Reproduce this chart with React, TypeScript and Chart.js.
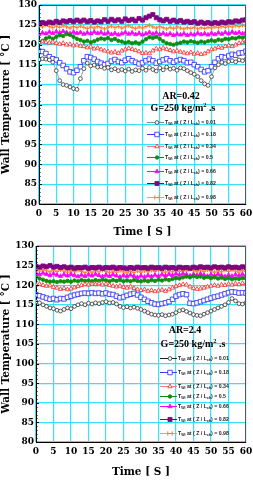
import React, { useEffect, useRef } from 'react';
import { Chart, registerables } from 'chart.js';

Chart.register(...registerables);

// ---------- data ----------
const TIME_S = [
  0, 1, 2, 3, 4, 5, 6, 7, 8, 9, 10, 11, 12, 13, 14, 15, 16, 17, 18, 19, 20,
  21, 22, 23, 24, 25, 26, 27, 28, 29, 30, 31, 32, 33, 34, 35, 36, 37, 38, 39, 40,
  41, 42, 43, 44, 45, 46, 47, 48, 49, 50, 51, 52, 53, 54, 55, 56, 57, 58, 59, 60,
];
const X_TICKS = [0, 5, 10, 15, 20, 25, 30, 35, 40, 45, 50, 55, 60];
const Y_TICKS = [80, 85, 90, 95, 100, 105, 110, 115, 120, 125, 130];
const Z_RATIOS = ['0.01', '0.18', '0.34', '0.5', '0.66', '0.82', '0.98'];

// AR = 0.42
const A042_Z001 = [
  116.3, 116.5, 116.4, 116.2, 115.6, 113.5, 111.0, 110.0, 109.8, 109.4,
  109.0, 108.8, 111.5, 114.0, 115.4, 114.7, 114.9, 114.4, 114.5, 114.1,
  114.3, 113.7, 114.0, 113.5, 113.8, 113.4, 113.9, 113.3, 113.7, 113.5,
  114.1, 113.6, 114.3, 113.8, 113.4, 114.2, 113.7, 114.4, 113.9, 114.1,
  113.6, 114.2, 114.0, 113.5, 113.0, 112.6, 112.0, 111.0, 110.2, 109.8,
  112.0, 114.2, 115.0, 115.6, 115.3, 115.8, 116.0, 115.7, 116.2, 116.0,
  116.4,
];
const A042_Z018 = [
  118.4, 118.3, 117.8, 117.0, 116.5, 116.2, 115.5, 114.8, 114.0, 113.2,
  113.0, 113.6, 114.5, 116.0, 117.0, 116.8, 116.4, 115.8, 115.4, 115.0,
  115.3, 115.9, 116.3, 115.8, 115.5, 116.1, 116.5, 116.0, 115.6, 115.2,
  115.5, 116.0, 116.4, 116.0, 115.4, 115.8, 116.2, 116.5, 116.0, 115.6,
  116.0, 116.3, 116.0, 115.5, 115.6, 115.0, 114.5, 113.8, 113.2, 113.5,
  114.5, 115.6, 116.5, 117.0, 116.8, 117.2, 117.6, 117.4, 117.9, 118.0,
  118.4,
];
const A042_Z034 = [
  120.6, 120.8, 120.6, 120.5, 120.7, 120.4, 120.2, 120.4, 120.0, 120.1,
  119.8, 120.0, 119.7, 119.6, 119.3, 119.5, 119.0, 119.2, 118.8, 118.5,
  118.3, 118.0, 118.2, 117.9, 118.5, 118.8, 119.1, 118.9, 118.6, 118.3,
  117.9, 118.0, 117.8, 118.5, 119.0, 118.8, 119.2, 118.9, 118.6, 118.3,
  118.5, 118.2, 118.0, 117.8, 118.1, 117.7, 117.9, 117.6, 117.8, 118.3,
  118.8, 119.0, 119.4, 119.2, 119.6, 119.8, 119.6, 120.0, 120.4, 120.6,
  120.9,
];
const A042_Z050 = [
  120.7, 121.0, 121.6, 121.9, 121.5, 122.0, 122.4, 122.2, 122.7, 122.5,
  122.0, 121.5, 121.2, 120.8, 121.0, 120.6, 120.9, 121.3, 121.6, 121.4,
  121.7, 121.2, 121.5, 121.0, 120.8, 120.5, 120.7, 120.4, 120.6, 120.3,
  120.8, 121.4, 121.9, 121.7, 122.0, 121.5, 120.9, 120.4, 120.2, 120.0,
  120.3, 120.5, 120.8, 120.6, 120.9, 120.7, 120.5, 120.8, 120.6, 120.9,
  121.1, 120.9, 121.3, 121.1, 121.5, 121.4, 121.7, 121.6, 121.9, 121.8,
  122.0,
];
const A042_Z066 = [
  122.6, 123.0, 122.8, 123.2, 122.9, 123.3, 123.0, 123.4, 123.1, 122.8,
  123.2, 122.9, 123.1, 122.7, 123.0, 122.8, 123.2, 122.9, 123.1, 122.7,
  123.0, 122.6, 122.9, 122.5, 122.8, 123.1, 122.7, 123.0, 122.6, 122.9,
  122.5, 122.8, 123.1, 122.7, 123.0, 122.6, 122.9, 122.5, 122.8, 122.4,
  122.7, 122.5, 122.8, 122.4, 122.7, 122.5, 122.9, 122.6, 122.8, 122.5,
  122.9, 122.6, 123.0, 122.7, 123.1, 122.8, 123.2, 122.9, 123.1, 122.8,
  123.2,
];
const A042_Z082 = [
  125.3, 125.6, 125.4, 125.7, 125.5, 125.9, 125.6, 126.0, 125.8, 126.1,
  125.8, 126.2, 125.9, 126.2, 125.8, 126.1, 125.7, 126.0, 125.8, 126.3,
  125.9, 126.4, 126.0, 126.3, 125.9, 126.5, 126.1, 126.4, 126.0, 126.6,
  126.2, 126.8, 127.2, 127.6, 126.8, 126.3, 126.0, 126.4, 125.9, 126.2,
  125.8, 126.1, 125.7, 125.9, 125.6, 125.8, 125.4, 125.7, 125.4, 125.6,
  125.3, 125.6, 125.4, 125.7, 125.5, 125.8, 125.7, 126.0, 125.9, 126.2,
  126.3,
];
const A042_Z098 = [
  124.8, 124.5, 124.9, 124.6, 124.3, 124.7, 124.4, 124.8, 124.5, 124.2,
  124.6, 124.3, 124.7, 124.4, 124.1, 124.5, 124.2, 124.6, 124.3, 124.0,
  124.4, 124.7, 124.3, 124.6, 124.2, 124.5, 124.8, 124.4, 124.1, 124.5,
  124.2, 124.6, 124.9, 124.5, 124.2, 124.6, 124.3, 124.0, 124.4, 124.1,
  124.5, 124.2, 124.0, 124.3, 124.1, 124.4, 124.0, 124.3, 124.1, 124.4,
  124.2, 124.5, 124.3, 124.6, 124.4, 124.7, 124.5, 124.8, 124.6, 124.9,
  124.7,
];

// AR = 2.4
const A24_Z001 = [
  115.8, 115.5, 115.0, 114.6, 114.2, 114.0, 113.6, 113.4, 113.8, 114.2,
  114.0, 114.6, 115.0, 115.3, 115.0, 115.4, 115.2, 115.5, 115.3, 115.6,
  115.8, 115.5, 115.6, 115.2, 114.6, 114.3, 114.5, 114.2, 114.4, 114.1,
  113.8, 113.4, 113.0, 112.6, 112.4, 112.3, 112.5, 112.2, 112.4, 112.6,
  113.0, 113.5, 113.7, 113.3, 112.9, 112.5, 112.3, 112.2, 112.6, 113.0,
  113.4, 113.8, 114.2, 114.6, 115.0, 115.6, 116.6, 116.0, 115.3, 115.2,
  115.5,
];
const A24_Z018 = [
  117.6, 117.3, 117.0, 116.7, 116.4, 116.6, 116.3, 116.6, 116.5, 116.9,
  117.2, 117.5, 117.7, 117.9, 118.0, 117.9, 118.1, 117.9, 118.0, 117.8,
  118.0, 117.7, 117.6, 117.2, 116.8, 117.0, 117.4, 117.7, 117.9, 117.5,
  116.9, 116.4, 115.9, 115.5, 115.2, 115.1, 115.3, 115.5, 115.8, 116.4,
  117.2, 117.6, 117.8, 117.6, 115.4, 115.3, 115.5, 115.8, 116.1, 116.4,
  116.7, 117.0, 117.2, 117.5, 117.8, 118.1, 118.3, 118.2, 118.0, 118.1,
  118.0,
];
const A24_Z034 = [
  120.1, 120.3, 120.0, 119.8, 119.9, 119.5, 119.3, 119.0, 119.2, 118.9,
  119.1, 119.4, 119.7, 120.0, 120.2, 120.1, 120.3, 120.2, 120.4, 120.1,
  120.3, 120.0, 119.8, 119.6, 119.8, 119.5, 119.3, 119.6, 119.2, 118.9,
  118.7, 118.9, 118.5, 118.7, 118.4, 118.6, 118.8, 118.5, 118.9, 119.3,
  119.7, 120.0, 120.2, 120.1, 119.6, 119.2, 119.0, 119.1, 119.3, 119.6,
  119.8, 120.0, 119.8, 120.1, 120.0, 120.3, 120.1, 120.4, 120.2, 120.5,
  120.4,
];
const A24_Z050 = [
  122.1, 121.7, 121.4, 121.1, 120.9, 121.0, 120.8, 121.0, 120.9, 121.1,
  120.9, 121.2, 121.0, 121.3, 121.1, 121.2, 121.0, 121.3, 121.1, 121.4,
  121.2, 121.0, 121.3, 121.1, 121.3, 121.0, 121.2, 121.0, 121.3, 121.1,
  121.0, 121.2, 121.0, 121.3, 121.1, 121.4, 121.2, 121.5, 121.3, 121.6,
  121.8, 121.7, 122.0, 122.2, 122.0, 122.3, 122.1, 122.2, 121.9, 122.1,
  121.8, 122.0, 121.7, 121.9, 121.6, 121.8, 121.5, 121.7, 121.6, 121.8,
  121.7,
];
const A24_Z066 = [
  123.0, 122.7, 123.1, 122.8, 122.5, 122.9, 122.6, 122.3, 122.7, 122.4,
  122.8, 122.5, 122.2, 122.6, 122.3, 122.7, 122.4, 122.8, 122.5, 122.2,
  122.6, 122.3, 122.7, 122.4, 122.1, 122.5, 122.2, 122.6, 122.3, 122.0,
  122.4, 122.1, 122.5, 122.2, 122.6, 122.3, 122.7, 122.4, 122.8, 122.5,
  122.9, 122.6, 123.0, 122.7, 122.4, 122.8, 122.5, 122.9, 122.6, 122.3,
  122.7, 122.4, 122.8, 122.5, 122.2, 122.6, 122.3, 122.7, 122.4, 122.8,
  122.5,
];
const A24_Z082 = [
  124.8, 124.6, 124.9, 124.7, 125.0, 124.6, 124.8, 124.5, 124.7, 124.4,
  124.6, 124.3, 124.5, 124.4, 124.6, 124.3, 124.5, 124.4, 124.6, 124.3,
  124.5, 124.4, 124.6, 124.3, 124.5, 124.4, 124.2, 124.5, 124.3, 124.6,
  124.4, 124.5, 124.3, 124.6, 124.4, 124.5, 124.3, 124.6, 124.4, 124.5,
  124.3, 124.6, 124.4, 124.5, 124.3, 124.6, 124.4, 124.7, 124.5, 124.6,
  124.4, 124.7, 124.5, 124.6, 124.4, 124.7, 124.5, 124.6, 124.4, 124.7,
  124.5,
];
const A24_Z098 = [
  123.9, 123.6, 124.0, 123.7, 123.4, 123.8, 123.5, 123.9, 123.6, 123.3,
  123.7, 123.4, 123.8, 123.5, 123.2, 123.6, 123.3, 123.7, 123.4, 123.8,
  123.5, 123.2, 123.6, 123.3, 123.7, 123.4, 123.1, 123.5, 123.2, 123.6,
  123.3, 123.7, 123.4, 123.8, 123.5, 123.9, 123.6, 123.3, 123.7, 123.4,
  123.8, 123.5, 123.9, 123.6, 124.0, 123.7, 123.4, 123.8, 123.5, 123.9,
  123.6, 123.3, 123.7, 123.4, 123.8, 123.5, 123.9, 123.6, 123.3, 123.7,
  123.5,
];

// ---------- styles ----------
const SERIF = '"DejaVu Serif", "Liberation Serif", serif';
const SANS = '"Liberation Sans", Arial, sans-serif';
const GRID = '#36e2f7';

type Marker = 'circle' | 'rect' | 'triangle' | 'cross';
const SERIES_STYLE: { marker: Marker; stroke: string; fill: string; line: string; r: number }[] = [
  { marker: 'circle', stroke: '#333333', fill: '#ffffff', line: '#8a8a8a', r: 1.9 },
  { marker: 'rect', stroke: '#2323ff', fill: '#ffffff', line: '#3b3bff', r: 3.2 },
  { marker: 'triangle', stroke: '#ff2424', fill: '#ffffff', line: '#ff7b7b', r: 2.5 },
  { marker: 'circle', stroke: '#118a11', fill: '#118a11', line: '#118a11', r: 1.8 },
  { marker: 'triangle', stroke: '#ff00ff', fill: '#ff00ff', line: '#ff00ff', r: 2.5 },
  { marker: 'rect', stroke: '#800080', fill: '#800080', line: '#800080', r: 2.9 },
  { marker: 'cross', stroke: '#ff7f2a', fill: '#ff7f2a', line: '#ff9c5c', r: 2.2 },
];

interface Panel {
  series: number[][];
  ar: string;
  firstLine: string;
  yWidth: number;
  xHeight: number;
  padTop: number;
  arPos: [number, number];
  gPos: [number, number];
  legendRows: number[];
  legendLine: [number, number];
  legendMarkerX: number;
  legendTextX: number;
}

const PANELS: Panel[] = [
  {
    series: [A042_Z001, A042_Z018, A042_Z034, A042_Z050, A042_Z066, A042_Z082, A042_Z098],
    ar: 'AR=0.42',
    firstLine: '#8a8a8a',
    yWidth: 39,
    xHeight: 36,
    padTop: 5,
    arPos: [181, 96],
    gPos: [183, 108],
    legendRows: [122, 134, 146, 157, 171, 183, 197],
    legendLine: [147, 164],
    legendMarkerX: 157,
    legendTextX: 165,
  },
  {
    series: [A24_Z001, A24_Z018, A24_Z034, A24_Z050, A24_Z066, A24_Z082, A24_Z098],
    ar: 'AR=2.4',
    firstLine: '#222222',
    yWidth: 36,
    xHeight: 38,
    padTop: 6,
    arPos: [185, 90],
    gPos: [193, 104],
    legendRows: [118, 132, 146, 156, 166, 179, 193],
    legendLine: [160, 177],
    legendMarkerX: 170,
    legendTextX: 178,
  },
];

function drawMarker(ctx: CanvasRenderingContext2D, kind: Marker, x: number, y: number, r: number, stroke: string, fill: string) {
  ctx.save();
  ctx.lineWidth = kind === 'cross' ? 1 : 0.8;
  ctx.strokeStyle = stroke;
  ctx.fillStyle = fill;
  ctx.beginPath();
  if (kind === 'circle') {
    ctx.arc(x, y, r, 0, Math.PI * 2);
  } else if (kind === 'rect') {
    const s = r * Math.SQRT1_2;
    ctx.rect(x - s, y - s, 2 * s, 2 * s);
  } else if (kind === 'triangle') {
    ctx.moveTo(x, y - r);
    ctx.lineTo(x + r * 0.866, y + r * 0.5);
    ctx.lineTo(x - r * 0.866, y + r * 0.5);
    ctx.closePath();
  } else {
    ctx.moveTo(x - r, y);
    ctx.lineTo(x + r, y);
    ctx.moveTo(x - r, y - r);
    ctx.lineTo(x - r, y + r);
    ctx.moveTo(x + r, y - r);
    ctx.lineTo(x + r, y + r);
  }
  if (kind !== 'cross') ctx.fill();
  ctx.stroke();
  ctx.restore();
}

type Part = { t: string; f: string; dy?: number };
function drawParts(ctx: CanvasRenderingContext2D, parts: Part[], x: number, y: number, center: boolean) {
  let total = 0;
  for (const p of parts) {
    ctx.font = p.f;
    total += ctx.measureText(p.t).width;
  }
  let cx = center ? x - total / 2 : x;
  for (const p of parts) {
    ctx.font = p.f;
    ctx.fillText(p.t, cx, y + (p.dy || 0));
    cx += ctx.measureText(p.t).width;
  }
}

function makeOverlay(panel: Panel) {
  return {
    id: 'overlay',
    afterDraw(chart: any) {
      const ctx: CanvasRenderingContext2D = chart.ctx;
      const a = chart.chartArea;
      const ys = chart.scales.y;
      ctx.save();
      // frame top / right
      ctx.strokeStyle = '#555';
      ctx.lineWidth = 1;
      ctx.beginPath();
      ctx.moveTo(a.left, a.top + 0.5);
      ctx.lineTo(a.right - 0.5, a.top + 0.5);
      ctx.lineTo(a.right - 0.5, a.bottom);
      ctx.stroke();
      // minor ticks on the y axis
      ctx.strokeStyle = '#000';
      ctx.beginPath();
      for (let v = ys.min; v <= ys.max; v += 1) {
        const py = Math.round(ys.getPixelForValue(v)) + 0.5;
        const len = v % 5 === 0 ? 3 : 1.5;
        ctx.moveTo(a.left, py);
        ctx.lineTo(a.left + len, py);
      }
      ctx.stroke();

      // annotation
      ctx.fillStyle = '#000';
      ctx.textBaseline = 'middle';
      ctx.textAlign = 'left';
      drawParts(ctx, [{ t: panel.ar, f: `bold 10px "Liberation Serif", serif` }], panel.arPos[0], panel.arPos[1], true);
      drawParts(
        ctx,
        [
          { t: 'G=250 kg/m', f: `bold 10px "Liberation Serif", serif` },
          { t: '2', f: `bold 6.5px "Liberation Serif", serif`, dy: -3 },
          { t: ' .s', f: `bold 10px "Liberation Serif", serif` },
        ],
        panel.gPos[0],
        panel.gPos[1],
        true
      );

      // legend
      const main = `bold 5.2px ${SANS}`;
      const sub = `bold 3.6px ${SANS}`;
      panel.legendRows.forEach((ry, i) => {
        const st = SERIES_STYLE[i];
        ctx.strokeStyle = i === 0 ? panel.firstLine : st.line;
        ctx.lineWidth = 1;
        ctx.beginPath();
        ctx.moveTo(panel.legendLine[0], ry + 0.5);
        ctx.lineTo(panel.legendLine[1], ry + 0.5);
        ctx.stroke();
        drawMarker(ctx, st.marker, panel.legendMarkerX, ry + 0.5, st.r, st.stroke, st.fill);
        ctx.fillStyle = '#222';
        drawParts(
          ctx,
          [
            { t: 'T', f: main },
            { t: 'Wi', f: sub, dy: 1.5 },
            { t: ' at ( Z / L', f: main },
            { t: 'ch', f: sub, dy: 1.5 },
            { t: ') = ' + Z_RATIOS[i], f: main },
          ],
          panel.legendTextX,
          ry + 0.5,
          false
        );
      });
      ctx.restore();
    },
  };
}

function makeConfig(panel: Panel): any {
  const datasets = panel.series.map((vals, i) => {
    const st = SERIES_STYLE[i];
    return {
      label: 'Twi at ( Z / Lch) = ' + Z_RATIOS[i],
      data: TIME_S.map((t, k) => ({ x: t, y: vals[k] })),
      borderColor: i === 0 ? panel.firstLine : st.line,
      borderWidth: 0.8,
      pointStyle: st.marker,
      pointRadius: st.r,
      pointBorderColor: st.stroke,
      pointBackgroundColor: st.fill,
      pointBorderWidth: st.marker === 'cross' ? 1 : 0.8,
      tension: 0,
      fill: false,
    };
  });
  const tickFont = { family: SERIF, weight: 'bold', size: 9 };
  const titleFont = { family: SERIF, weight: 'bold', size: 10.5 };
  return {
    type: 'line',
    data: { datasets },
    options: {
      animation: false,
      responsive: false,
      events: [],
      layout: { padding: { left: 0, top: panel.padTop, right: 7, bottom: 0 } },
      plugins: { legend: { display: false }, tooltip: { enabled: false } },
      scales: {
        x: {
          type: 'linear',
          min: 0,
          max: 60,
          afterBuildTicks: (s: any) => {
            s.ticks = X_TICKS.map((v) => ({ value: v }));
          },
          afterFit: (s: any) => {
            s.height = panel.xHeight;
            s.paddingLeft = 0;
            s.paddingRight = 0;
          },
          ticks: { font: tickFont, color: '#000', padding: 4, autoSkip: false, maxRotation: 0 },
          grid: { color: GRID, lineWidth: 1.2, drawTicks: false },
          border: { color: '#000', width: 1 },
          title: { display: true, text: 'Time [ S ]', font: titleFont, color: '#000', padding: { top: 0, bottom: 1 } },
        },
        y: {
          type: 'linear',
          min: 80,
          max: 130,
          afterBuildTicks: (s: any) => {
            s.ticks = Y_TICKS.map((v) => ({ value: v }));
          },
          afterFit: (s: any) => {
            s.width = panel.yWidth;
            s.paddingTop = 0;
            s.paddingBottom = 0;
          },
          ticks: { font: tickFont, color: '#000', padding: 2, autoSkip: false },
          grid: { color: GRID, lineWidth: 1.2, drawTicks: false },
          border: { color: '#000', width: 1 },
          title: { display: true, text: 'Wall Temperature [ °C ]', font: titleFont, color: '#000', padding: { top: 0, bottom: 0 } },
        },
      },
    },
    plugins: [makeOverlay(panel)],
  };
}

function PanelChart({ panel }: { panel: Panel }) {
  const ref = useRef<HTMLCanvasElement | null>(null);
  useEffect(() => {
    if (!ref.current) return;
    const chart = new Chart(ref.current, makeConfig(panel));
    return () => chart.destroy();
  }, [panel]);
  return <canvas ref={ref} width={253} height={240} style={{ display: 'block', width: 253, height: 240 }} />;
}

export default function App() {
  return (
    <div style={{ position: 'absolute', left: 0, top: 0, width: 253, height: 480, background: '#fff' }}>
      {PANELS.map((p, i) => (
        <PanelChart key={i} panel={p} />
      ))}
    </div>
  );
}
